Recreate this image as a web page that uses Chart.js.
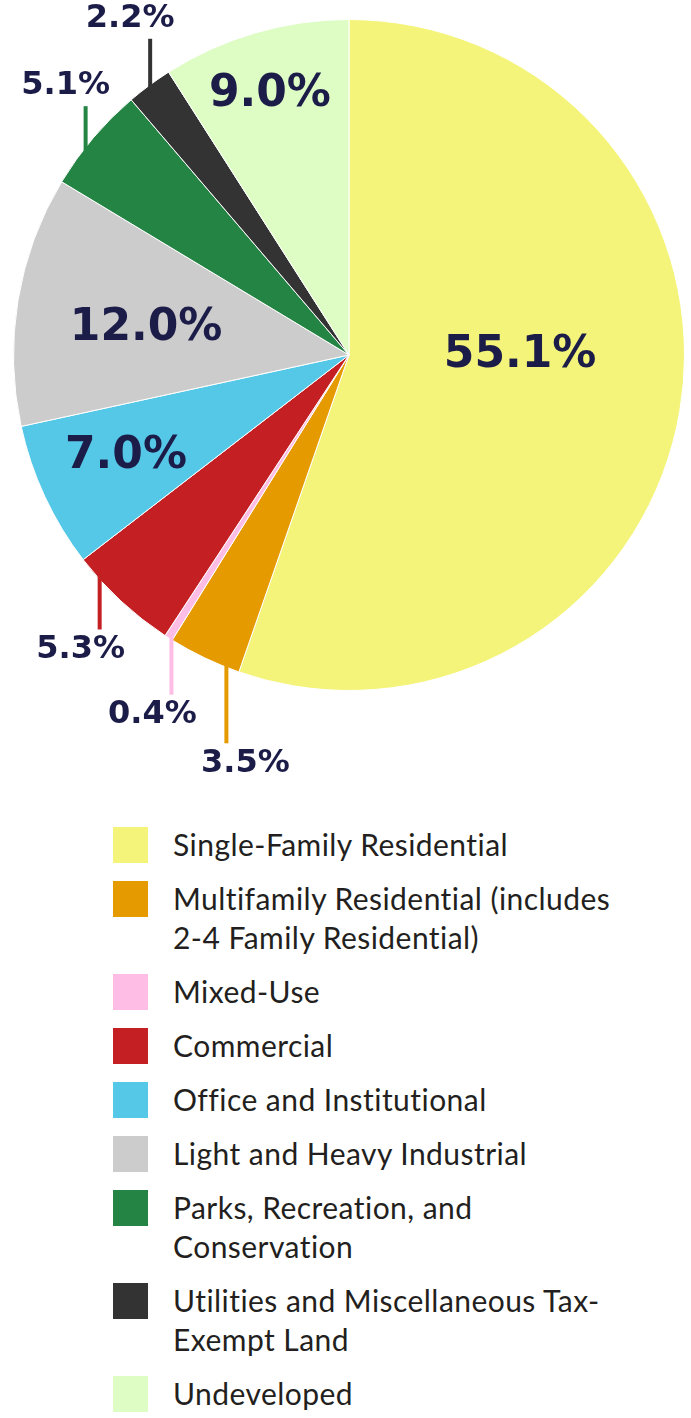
<!DOCTYPE html>
<html>
<head>
<meta charset="utf-8">
<title>Land Use</title>
<script src="https://cdn.jsdelivr.net/npm/chart.js@4"></script>
<style>
  body { margin: 0; background: #fff; }
  #wrap { width: 691px; }
  #legend { padding-top: 25px; font-family: Lato, "Open Sans", sans-serif; font-size: 30px; letter-spacing: 0.45px; line-height: 39px; color: #231f20; }
  .item { display: flex; align-items: flex-start; margin-left: 113px; margin-bottom: 15px; }
  .box { width: 35px; height: 36px; margin-top: 2px; flex: none; }
  .txt { margin-left: 25px; }
</style>
</head>
<body>
<div id="wrap">
  <canvas id="landUseChart" width="691" height="800"></canvas>
  <div id="legend"></div>
</div>
<script>
  // Land use categories (array entries are wrapped legend lines)
  const categories = [
    'Single-Family Residential',
    ['Multifamily Residential (includes', '2-4 Family Residential)'],
    'Mixed-Use',
    'Commercial',
    'Office and Institutional',
    'Light and Heavy Industrial',
    ['Parks, Recreation, and', 'Conservation'],
    ['Utilities and Miscellaneous Tax-', 'Exempt Land'],
    'Undeveloped'
  ];
  const shares = [55.1, 3.5, 0.4, 5.3, 7.0, 12.0, 5.1, 2.2, 9.0];
  const colors = ['#f4f47b', '#e59a00', '#fdbde5', '#c41f23', '#55c8e8', '#cccccc', '#238443', '#333333', '#ddfdc5'];

  const labelColor = '#1c1c48';

  // how each slice gets its percentage: inside the slice, or outside on a leader line
  const labelStyle = [
    { inside: true, t: 0.453, r: 0.51, size: 44 },
    { inside: false, t: 0.18, len: 76, dir: 1, dx: 19 },
    { inside: false, t: 0.1, len: 55, dir: 1, dx: -19 },
    { inside: false, t: 0.77, len: 50, dir: 1, dx: -19 },
    { inside: true, t: 0.52, r: 0.73, size: 44 },
    { inside: true, t: 0.456, r: 0.61, size: 44 },
    { inside: false, t: 0.39, len: 41, dir: -1, dx: -20 },
    { inside: false, t: 0.52, len: 46, dir: -1, dx: -20 },
    { inside: true, t: 0.48, r: 0.81, size: 44 }
  ];

  const sliceLabels = {
    id: 'sliceLabels',
    afterDatasetsDraw(chart) {
      const ctx = chart.ctx;
      const meta = chart.getDatasetMeta(0);
      ctx.save();
      ctx.textAlign = 'center';
      ctx.textBaseline = 'middle';
      meta.data.forEach((arc, i) => {
        const st = labelStyle[i];
        const text = shares[i].toFixed(1) + '%';
        const a = arc.startAngle + (arc.endAngle - arc.startAngle) * st.t;
        if (st.inside) {
          const rr = arc.outerRadius * st.r;
          ctx.font = 'bold ' + st.size + 'px "DejaVu Sans", Verdana, sans-serif';
          ctx.fillStyle = labelColor;
          ctx.fillText(text, arc.x + rr * Math.cos(a), arc.y + rr * Math.sin(a));
        } else {
          const x0 = arc.x + arc.outerRadius * Math.cos(a);
          const y0 = arc.y + arc.outerRadius * Math.sin(a);
          const y1 = y0 + st.dir * st.len;
          ctx.strokeStyle = colors[i];
          ctx.lineWidth = 4;
          ctx.beginPath();
          ctx.moveTo(x0, y0 - st.dir * 8);
          ctx.lineTo(x0, y1);
          ctx.stroke();
          ctx.font = 'bold 32px "DejaVu Sans", Verdana, sans-serif';
          ctx.fillStyle = labelColor;
          ctx.fillText(text, x0 + st.dx, y1 + st.dir * 20);
        }
      });
      ctx.restore();
    }
  };

  new Chart(document.getElementById('landUseChart'), {
    type: 'pie',
    data: {
      labels: categories,
      datasets: [{
        data: shares,
        backgroundColor: colors,
        borderColor: '#ffffff',
        borderWidth: 1
      }]
    },
    options: {
      responsive: false,
      devicePixelRatio: 1,
      animation: false,
      layout: { padding: { left: 13, right: 6, top: 19, bottom: 109 } },
      plugins: {
        legend: { display: false },
        tooltip: { enabled: false }
      }
    },
    plugins: [sliceLabels]
  });

  // legend list under the pie
  const legend = document.getElementById('legend');
  categories.forEach((name, i) => {
    const item = document.createElement('div');
    item.className = 'item';
    const box = document.createElement('div');
    box.className = 'box';
    box.style.background = colors[i];
    const txt = document.createElement('div');
    txt.className = 'txt';
    txt.innerHTML = [].concat(name).join('<br>');
    item.appendChild(box);
    item.appendChild(txt);
    legend.appendChild(item);
  });
</script>
</body>
</html>
